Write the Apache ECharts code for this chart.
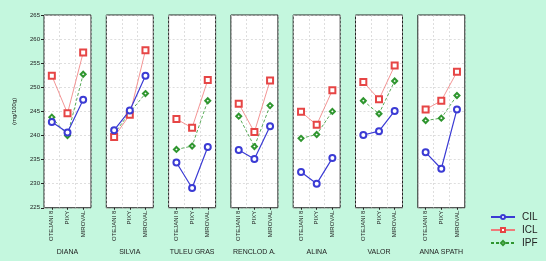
<!DOCTYPE html>
<html>
<head>
<meta charset="utf-8">
<script src="https://cdn.jsdelivr.net/npm/echarts@6/dist/echarts.min.js"></script>
<style>
  html, body { margin: 0; padding: 0; background: #c4f7de; }
  #chart { width: 546px; height: 261px; }
</style>
</head>
<body>
<div id="chart"></div>
<script>
// varieties (one panel each) and the 3 rootstocks on each x axis
var varieties = ['DIANA', 'SILVIA', 'TULEU GRAS', 'RENCLOD A.', 'ALINA', 'VALOR', 'ANNA SPATH'];
var rootstocks = ['OTEJANI 8', 'PIXY', 'MIROVAL'];

// values per variety, in rootstock order (mg/100g)
var cil = [
  [242.8, 240.6, 247.4],
  [241.1, 245.2, 252.4],
  [234.4, 229.1, 237.6],
  [237.0, 235.1, 241.9],
  [232.4, 230.0, 235.3],
  [240.1, 240.9, 245.1],
  [236.5, 233.1, 245.4]
];
var icl = [
  [252.4, 244.6, 257.2],
  [239.7, 244.3, 257.7],
  [243.4, 241.6, 251.5],
  [246.6, 240.7, 251.4],
  [244.9, 242.2, 249.4],
  [251.1, 247.5, 254.5],
  [245.4, 247.2, 253.2]
];
var ipf = [
  [243.8, 240.0, 252.7],
  [240.3, 244.8, 248.7],
  [237.1, 237.8, 247.2],
  [244.0, 237.7, 246.2],
  [239.4, 240.2, 245.0],
  [247.2, 244.5, 251.3],
  [243.1, 243.6, 248.3]
];

var chart = echarts.init(document.getElementById('chart'))

var grids = [], xAxes = [], yAxes = [], series = []
var gridLine = { show: true, lineStyle: { color: '#c8c8c8', type: [2, 2], width: 0.6 } }

varieties.forEach(function (name, i) {
  grids.push({
    left: 44 + i * 62.3,
    top: 15,
    width: 47,
    height: 201,
    show: true,
    backgroundColor: '#ffffff',
    borderColor: '#222',
    borderWidth: 1
  })
  xAxes.push({
    type: 'category',
    gridIndex: i,
    data: rootstocks,
    name: name,
    nameLocation: 'middle',
    nameGap: 39,
    nameTextStyle: { fontSize: 7, color: '#222', fontFamily: 'Liberation Sans' },
    axisLine: { show: false },
    axisTick: { show: true, alignWithLabel: true, length: 2, lineStyle: { color: '#222' } },
    axisLabel: { rotate: 90, fontSize: 6, color: '#222', margin: 3, interval: 0, fontFamily: 'Liberation Sans' },
    splitLine: gridLine
  })
  yAxes.push({
    type: 'value',
    gridIndex: i,
    min: 225,
    max: 265,
    interval: 5,
    name: i === 0 ? '(mg/100g)' : '',
    nameLocation: 'middle',
    nameGap: 27,
    nameTextStyle: { fontSize: 6, color: '#222', fontFamily: 'Liberation Sans' },
    axisLine: { show: false },
    axisTick: { show: i === 0, length: 3, lineStyle: { color: '#222' } },
    axisLabel: { show: i === 0, fontSize: 6, color: '#222', margin: 4, fontFamily: 'Liberation Sans' },
    splitLine: gridLine
  })
  series.push({
    name: 'CIL', type: 'line', xAxisIndex: i, yAxisIndex: i,
    data: cil[i],
    symbol: 'emptyCircle', symbolSize: 6,
    itemStyle: { color: '#3b3bd4', borderWidth: 1 },
    lineStyle: { color: '#3b3bd4', width: 1.2 },
    animation: false, z: 4
  }, {
    name: 'ICL', type: 'line', xAxisIndex: i, yAxisIndex: i,
    data: icl[i],
    symbol: 'emptyRect', symbolSize: 6,
    itemStyle: { color: '#e64545', borderWidth: 1 },
    lineStyle: { color: '#f07a7a', width: 0.8 },
    animation: false, z: 3
  }, {
    name: 'IPF', type: 'line', xAxisIndex: i, yAxisIndex: i,
    data: ipf[i],
    symbol: 'emptyDiamond', symbolSize: 5,
    itemStyle: { color: '#2f962f', borderWidth: 1 },
    lineStyle: { color: '#2f962f', width: 0.8, type: [3, 2] },
    animation: false, z: 2
  })
})

chart.setOption({
  backgroundColor: '#c4f7de',
  textStyle: { fontFamily: 'Liberation Sans' },
  legend: {
    data: ['CIL', 'ICL', 'IPF'],
    orient: 'vertical',
    left: 485,
    top: 207,
    itemWidth: 24,
    itemHeight: 5,
    itemGap: 3,
    textStyle: { fontSize: 10, color: '#222', padding: [0, 0, 0, 2] }
  },
  grid: grids,
  xAxis: xAxes,
  yAxis: yAxes,
  series: series
})
</script>
</body>
</html>
